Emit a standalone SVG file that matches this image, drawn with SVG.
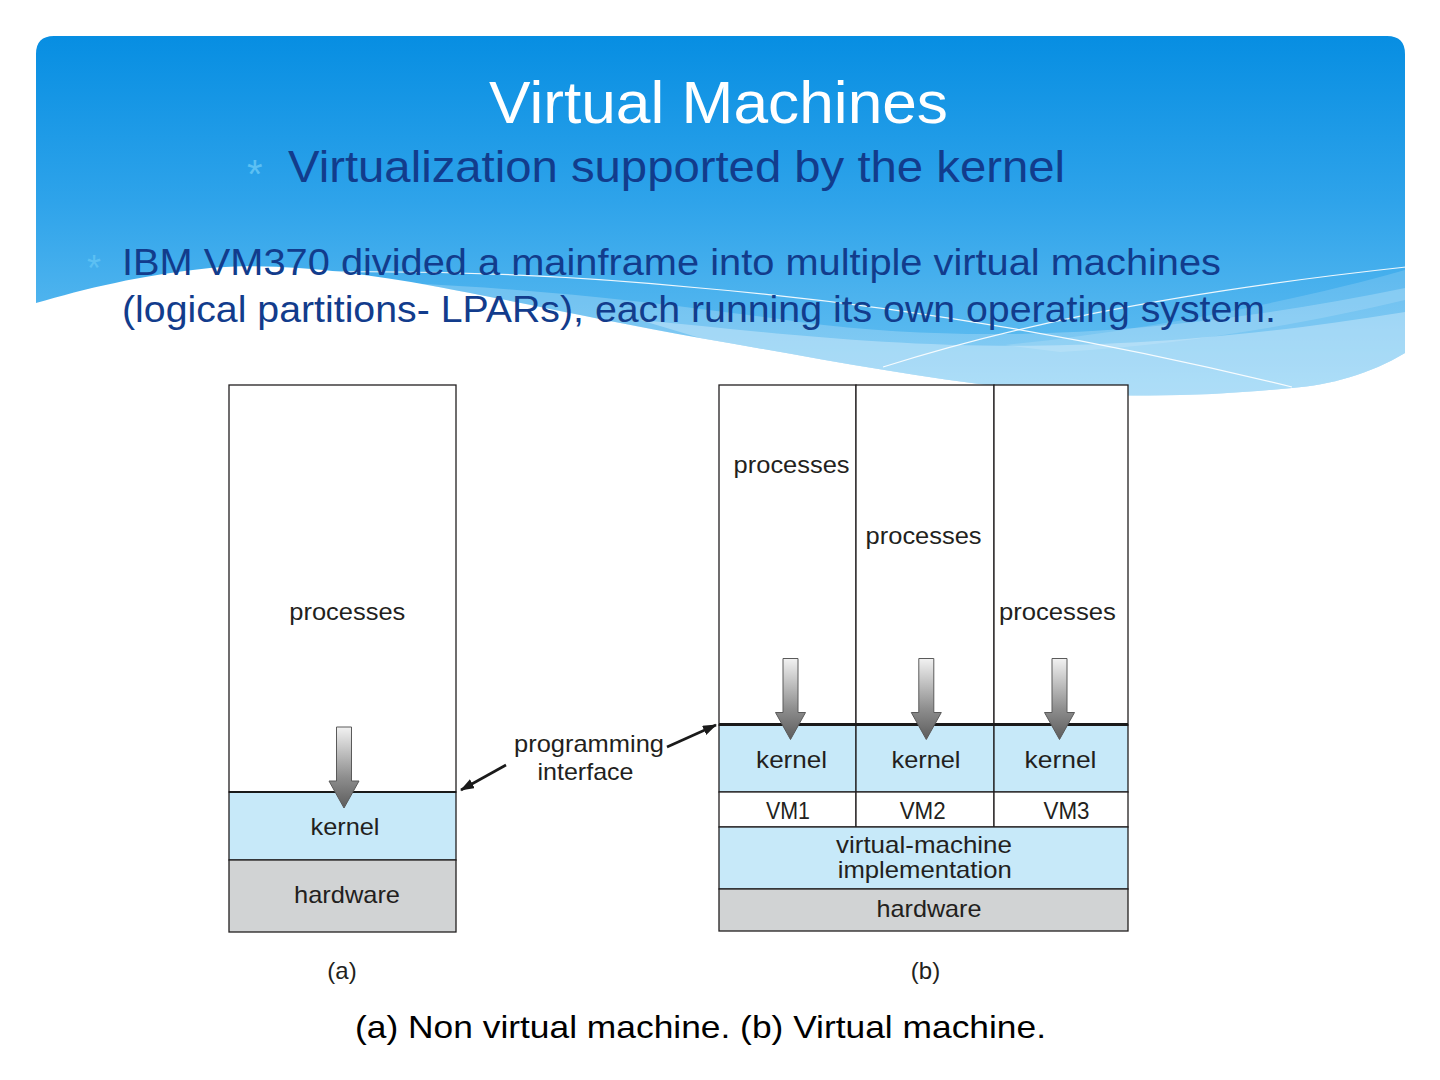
<svg xmlns="http://www.w3.org/2000/svg" width="1440" height="1080" viewBox="0 0 1440 1080">
<defs>
<linearGradient id="sky" x1="0" y1="36" x2="0" y2="400" gradientUnits="userSpaceOnUse">
<stop offset="0" stop-color="#078ee2"/>
<stop offset="0.45" stop-color="#2ea3ea"/>
<stop offset="1" stop-color="#6cc3f2"/>
</linearGradient>
<linearGradient id="arrowGrad" x1="0" y1="0" x2="0" y2="1">
<stop offset="0" stop-color="#f2f2f2"/>
<stop offset="0.62" stop-color="#8e8e8e"/>
<stop offset="1" stop-color="#5c5c5c"/>
</linearGradient>
<path id="downArrow" d="M-7.5,0 H7.5 V54 H15 L0,81 L-15,54 H-7.5 Z" fill="url(#arrowGrad)" stroke="#5a5a5a" stroke-width="1"/>
<marker id="head" markerUnits="userSpaceOnUse" markerWidth="16" markerHeight="12" refX="13" refY="5" orient="auto">
<path d="M0,0 L14,5 L0,10 Z" fill="#1a1a1a"/>
</marker>
</defs>
<style>
.slide{font-family:"Liberation Sans","Open Sans",Arial,sans-serif;}
.title{fill:#ffffff;font-size:60px;}
.navy{fill:#123c8c;}
.bullet{fill:#5cc0f3;}
.lbl{font-family:"Liberation Sans",Arial,Helvetica,sans-serif;font-size:24px;fill:#231f20;text-anchor:middle;}
.box{stroke:#231f20;stroke-width:1.3;}
.white{fill:#ffffff;}
.kern{fill:#c7e9f9;}
.hw{fill:#d1d3d4;}
.conn{stroke:#1a1a1a;stroke-width:2.6;fill:none;marker-end:url(#head);}
.wline{stroke:#ffffff;stroke-width:1.2;fill:none;opacity:0.9;}
</style>

<rect width="1440" height="1080" fill="#ffffff"/>

<g id="background">
<path d="M36,54 Q36,36 54,36 L1387,36 Q1405,36 1405,54 L1405,353 C1370,374 1330,385 1292,388 C1210,396 1120,400 1010,388 C900,375 800,355 700,338 C610,322 500,298 433,286 C360,273 280,262 210,268 C140,275 85,289 36,303 Z" fill="url(#sky)"/>
<path d="M300,280 C480,282 640,300 800,322 C1000,348 1200,330 1405,288 L1405,353 C1370,374 1330,385 1292,388 C1210,396 1120,400 1010,388 C900,375 800,355 700,338 C610,322 500,298 433,286 Z" fill="#ffffff" opacity="0.22"/>
<path d="M640,320 C850,340 1050,370 1405,312 L1405,353 C1370,374 1330,385 1292,388 C1210,396 1120,400 1010,388 C900,375 800,355 700,338 Z" fill="#ffffff" opacity="0.3"/>
<path d="M1005,345 C1150,330 1300,300 1405,270 L1405,300 C1300,325 1180,345 1060,352 Z" fill="#ffffff" opacity="0.15"/>
<path class="wline" d="M330,272 C500,270 620,280 700,288 C900,305 1100,340 1292,387"/>
<path class="wline" d="M883,367 C1000,330 1150,295 1406,267"/>
</g>

<g id="header" class="slide">
<text class="title" x="718.5" y="123" text-anchor="middle" textLength="459" lengthAdjust="spacingAndGlyphs">Virtual Machines</text>
<text class="bullet" x="247" y="188" font-size="40">*</text>
<text class="navy" x="288" y="182" font-size="45" textLength="777" lengthAdjust="spacingAndGlyphs">Virtualization supported by the kernel</text>
<text class="bullet" x="87" y="281" font-size="36">*</text>
<text class="navy" x="122" y="275" font-size="37" textLength="1099" lengthAdjust="spacingAndGlyphs">IBM VM370 divided a mainframe into multiple virtual machines</text>
<text class="navy" x="122" y="322" font-size="37" textLength="1154" lengthAdjust="spacingAndGlyphs">(logical partitions- LPARs), each running its own operating system.</text>
</g>

<g id="diagram-a">
<g id="a-processes">
<rect class="white box" x="229" y="385" width="227" height="407"/>
<text class="lbl" x="347.3" y="620" textLength="116" lengthAdjust="spacingAndGlyphs">processes</text>
</g>
<g id="a-kernel">
<rect class="kern box" x="229" y="792" width="227" height="68"/>
<line x1="229" y1="792" x2="456" y2="792" stroke="#1a1a1a" stroke-width="2"/>
<text class="lbl" x="345" y="835" textLength="69" lengthAdjust="spacingAndGlyphs">kernel</text>
</g>
<g id="a-hardware">
<rect class="hw box" x="229" y="860" width="227" height="72"/>
<text class="lbl" x="347" y="903" textLength="106" lengthAdjust="spacingAndGlyphs">hardware</text>
</g>
<use href="#downArrow" x="344" y="727"/>
<text class="lbl" x="342" y="979" font-size="22">(a)</text>
</g>

<g id="diagram-b">
<g id="b-processes">
<rect class="white box" x="719" y="385" width="137" height="340"/>
<rect class="white box" x="856" y="385" width="138" height="340"/>
<rect class="white box" x="994" y="385" width="134" height="340"/>
<text class="lbl" x="791.6" y="473" textLength="116" lengthAdjust="spacingAndGlyphs">processes</text>
<text class="lbl" x="923.6" y="544" textLength="116" lengthAdjust="spacingAndGlyphs">processes</text>
<text class="lbl" x="1057.4" y="620" textLength="117" lengthAdjust="spacingAndGlyphs">processes</text>
</g>
<g id="b-kernels">
<rect class="kern box" x="719" y="725" width="137" height="67"/>
<rect class="kern box" x="856" y="725" width="138" height="67"/>
<rect class="kern box" x="994" y="725" width="134" height="67"/>
<text class="lbl" x="791.6" y="768" textLength="71" lengthAdjust="spacingAndGlyphs">kernel</text>
<text class="lbl" x="926" y="768" textLength="69" lengthAdjust="spacingAndGlyphs">kernel</text>
<text class="lbl" x="1060.5" y="768" textLength="72" lengthAdjust="spacingAndGlyphs">kernel</text>
</g>
<line x1="719" y1="724.5" x2="1128" y2="724.5" stroke="#1a1a1a" stroke-width="3"/>
<g id="b-vms">
<rect class="white box" x="719" y="792" width="137" height="35"/>
<rect class="white box" x="856" y="792" width="138" height="35"/>
<rect class="white box" x="994" y="792" width="134" height="35"/>
<text class="lbl" x="788" y="819" font-size="21" textLength="44" lengthAdjust="spacingAndGlyphs">VM1</text>
<text class="lbl" x="922.7" y="819" font-size="21" textLength="46" lengthAdjust="spacingAndGlyphs">VM2</text>
<text class="lbl" x="1066.5" y="819" font-size="21" textLength="46" lengthAdjust="spacingAndGlyphs">VM3</text>
</g>
<g id="b-vmi">
<rect class="kern box" x="719" y="827" width="409" height="62"/>
<text class="lbl" x="924" y="853" textLength="176" lengthAdjust="spacingAndGlyphs">virtual-machine</text>
<text class="lbl" x="924.7" y="878" textLength="174" lengthAdjust="spacingAndGlyphs">implementation</text>
</g>
<g id="b-hardware">
<rect class="hw box" x="719" y="889" width="409" height="42"/>
<text class="lbl" x="929" y="917" textLength="105" lengthAdjust="spacingAndGlyphs">hardware</text>
</g>
<use href="#downArrow" x="790.5" y="658.5"/>
<use href="#downArrow" x="926.3" y="658.5"/>
<use href="#downArrow" x="1059.5" y="658.5"/>
<text class="lbl" x="925.5" y="979" font-size="22">(b)</text>
</g>

<g id="programming-interface">
<text class="lbl" x="589" y="752" textLength="150" lengthAdjust="spacingAndGlyphs">programming</text>
<text class="lbl" x="585.5" y="780" textLength="96" lengthAdjust="spacingAndGlyphs">interface</text>
</g>

<g id="connectors">
<line class="conn" x1="506" y1="765" x2="461" y2="790"/>
<line class="conn" x1="667" y1="747" x2="716" y2="725"/>
</g>

<g id="caption" class="slide">
<text x="700.5" y="1038" font-size="32" fill="#000000" text-anchor="middle" textLength="691" lengthAdjust="spacingAndGlyphs">(a) Non virtual machine. (b) Virtual machine.</text>
</g>
</svg>
